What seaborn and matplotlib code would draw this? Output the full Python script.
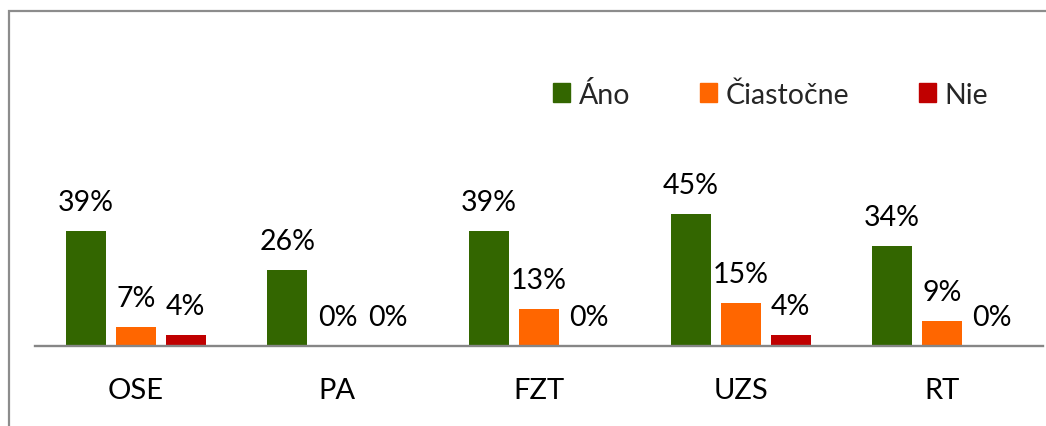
import matplotlib
matplotlib.use("Agg")
import matplotlib.pyplot as plt
import matplotlib.patches as mpatches
import seaborn as sns
import pandas as pd

categories = ["OSE", "PA", "FZT", "UZS", "RT"]
series = ["Áno", "Čiastočne", "Nie"]
ano = [39.0, 25.8, 39.0, 44.9, 33.9]
ciastocne = [6.6, 0.0, 12.6, 14.6, 8.6]
nie = [3.6, 0.0, 0.0, 3.6, 0.0]
colors = ["#336600", "#FF6600", "#C00000"]

rows = []
for s, vals in zip(series, [ano, ciastocne, nie]):
    for c, v in zip(categories, vals):
        rows.append({"cat": c, "val": v, "series": s})
df = pd.DataFrame(rows)

sns.set_theme(style="white")
plt.rcParams["font.family"] = ["Lato", "DejaVu Sans"]

W, H = 1046, 427
fig = plt.figure(figsize=(W / 100, H / 100), dpi=100)
ax = fig.add_axes([35 / W, 80 / H, (1043 - 35) / W, 295 / H])

sns.barplot(data=df, x="cat", y="val", hue="series", hue_order=series,
            order=categories, palette=colors, saturation=1, width=0.744, gap=0.2,
            linewidth=0, ax=ax, legend=False)

for cont in ax.containers:
    ax.bar_label(cont, fmt="{:.0f}%", padding=11.5, fontsize=20.5, color="black")

ax.set_ylim(0, 100)
ax.set_xlim(-0.5, 4.5)
ax.set_xlabel("")
ax.set_ylabel("")
ax.set_yticks([])
for sp in ["left", "right", "top"]:
    ax.spines[sp].set_visible(False)
ax.spines["bottom"].set_color("#868686")
ax.spines["bottom"].set_linewidth(1.7)
ax.tick_params(axis="x", length=0, pad=22, labelsize=21, labelcolor="black")

handles = [mpatches.Patch(color=c, label=s) for c, s in zip(colors, series)]
fig.legend(handles=handles, loc="center left", bbox_to_anchor=(553 / W, 1 - 95 / H),
           ncol=3, frameon=False, fontsize=20.5, handlelength=0.6, handleheight=0.6,
           handletextpad=0.3, columnspacing=2.45, borderpad=0, borderaxespad=0)

fig.patches.append(mpatches.Rectangle((8.5 / W, -0.2), 1.5, 1.2 - 11.5 / H,
                                      transform=fig.transFigure, fill=False,
                                      edgecolor="#8c8c8c", linewidth=1.6))

fig.savefig("out.png", dpi=100)
